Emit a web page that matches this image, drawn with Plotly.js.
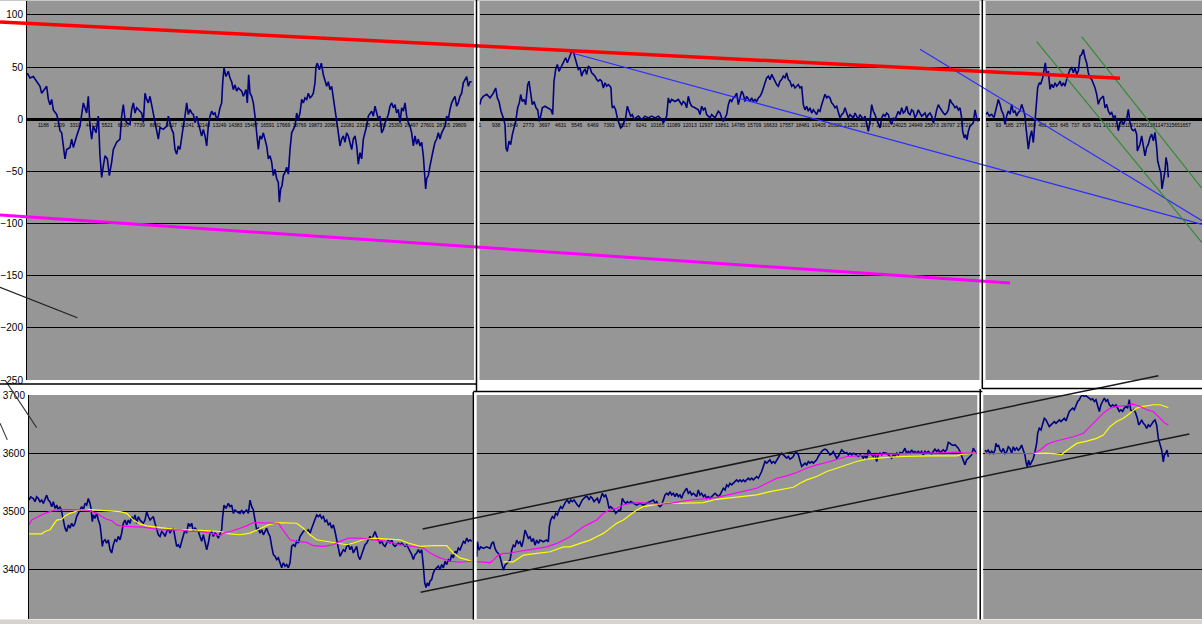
<!DOCTYPE html>
<html><head><meta charset="utf-8">
<script src="https://cdn.plot.ly/plotly-3.0.1.min.js"></script>
<style>html,body{margin:0;padding:0;background:#fff}#chart{width:1202px;height:624px}</style>
</head><body><div id="chart"></div>
<script>
// ---------- DATA (bar index, value) ----------
// Top oscillator, three sub-panels
const osc1 = [[22,44.3],[30,39.5],[40,41],[50,36],[60,31.6],[65,25],[70,27],[80,31.6],[85,19],[90,14],[95,19],[100,9],[110,4.6],[115,-1.7],[120,-11],[125,-13],[130,-25.6],[135,-38],[140,-29],[150,-27],[155,-19],[160,-27],[170,-16],[180,-6.5],[190,15.7],[200,6],[205,22],[210,-6.5],[215,-19],[220,-6.5],[228,-13],[235,3],[240,-35],[245,-55.7],[250,-44.6],[255,-35],[262,-38],[268,-54],[275,-41],[280,-29],[290,-22],[300,-19],[305,3],[310,14],[315,0],[320,-3.3],[330,-5],[335,9.4],[340,15.7],[345,6],[350,11],[360,7.8],[365,6],[370,-3],[375,25],[380,19],[385,15.7],[390,22],[395,14],[400,7.8],[405,-3.3],[410,-9.7],[415,-19],[420,-8],[430,-9.7],[440,-6.5],[445,3],[450,-3.3],[455,-9.7],[460,-13],[465,-29],[470,-33.5],[475,-25.6],[480,-29],[485,-16],[490,-6.5],[495,3],[500,15.7],[505,4.6],[510,9.4],[515,6],[520,4.6],[525,-3.3],[530,3],[540,-9.7],[545,-16],[550,-9.7],[555,-16],[560,-25.6],[565,-6.5],[570,3],[575,7.8],[580,4.6],[585,6],[590,0],[595,3],[600,11],[605,15.7],[608,35],[612,49],[618,41],[625,46],[630,39.5],[635,36],[640,28.4],[645,33],[650,27],[655,30],[665,27],[670,22],[678,28.4],[682,15.7],[686,42.7],[690,25],[695,22],[700,15.7],[705,3],[710,-13],[715,-29],[720,-16],[725,-19],[730,-13],[735,-19],[740,-25.6],[745,-38],[750,-35],[755,-41],[760,-54],[765,-48],[770,-57],[775,-60.5],[778,-79.5],[782,-66.8],[786,-63.7],[790,-54],[795,-51],[800,-46],[805,-52.6],[810,-29],[815,-13],[820,-9.7],[825,-6.5],[830,6],[835,0],[840,6],[845,19],[850,15.7],[855,20.5],[860,19],[865,25],[870,20.5],[875,22],[880,25],[885,35],[888,50.6],[892,53.8],[898,47.5],[904,53.8],[910,42.7],[915,38],[920,31.6],[925,36],[930,28.4],[935,31.6],[940,19],[945,6],[950,-1.7],[955,-13],[960,-25.6],[965,-19],[970,-16],[975,-22],[980,-13],[985,-16],[990,-22],[995,-29],[1000,-19],[1005,-16],[1010,-25.6],[1015,-43],[1020,-32],[1025,-38],[1030,-19],[1035,-13],[1040,-6.5],[1045,3],[1050,6],[1055,7.8],[1060,3],[1065,12.5],[1070,6],[1075,0],[1080,3],[1085,-13],[1090,-9.7],[1095,-3.3],[1100,0],[1105,4.6],[1110,12.5],[1115,15.7],[1120,11],[1125,14],[1130,6],[1135,9.4],[1140,-3.3],[1145,11],[1150,7.8],[1155,15.7],[1160,3],[1165,-3.3],[1170,-6.5],[1175,-13],[1180,-25.6],[1185,-16],[1190,-24],[1195,-19],[1200,-25.6],[1205,-22],[1210,-35],[1213,-51],[1217,-66.8],[1220,-57],[1225,-54],[1230,-44.6],[1235,-35],[1240,-29],[1245,-22],[1250,-19],[1255,-13],[1260,-19],[1265,-13],[1270,-9.7],[1275,-6.5],[1280,3],[1285,0],[1290,9.4],[1295,15.7],[1300,19],[1305,22],[1310,12.5],[1315,15.7],[1320,22],[1325,25],[1330,35],[1335,38],[1340,41],[1345,31.6],[1350,36],[1355,36]];
const osc2 = [[15,14],[18,19],[25,22],[35,24],[45,20.5],[55,25],[62,30],[67,20.5],[72,17],[78,7.7],[85,1.3],[90,-5],[93,-27.6],[97,-30.8],[102,-21],[107,-24.4],[112,-14.7],[117,-8.3],[122,-2],[128,11],[133,15.7],[137,23.7],[142,17],[147,19],[152,14],[158,33],[162,36.5],[167,25],[172,14],[177,17],[183,11],[188,9],[193,-2],[197,3],[202,11],[210,12.5],[220,11],[228,9],[233,4.5],[237,36.5],[242,47.8],[247,52.6],[252,46],[257,49.4],[262,52.6],[267,55.8],[272,59],[277,54.2],[282,59],[287,62],[291,66],[296,63.8],[300,59],[305,51],[310,47.8],[315,49.4],[320,41.3],[325,46],[330,47.8],[335,43],[340,51],[345,49.4],[350,44.5],[355,43],[360,41.3],[365,38],[370,36.5],[375,38],[380,36.5],[385,30],[390,35],[395,31.7],[400,33.3],[405,31.7],[408,30],[410,17],[412,11],[417,12.5],[422,9],[428,-0.3],[432,-5],[437,-8.3],[442,-6.7],[447,-2],[452,1.3],[457,12.5],[462,7.7],[467,3],[472,4.5],[477,-0.3],[482,1.3],[490,3],[500,-0.3],[510,3],[520,1.3],[530,3],[540,1.3],[550,3],[560,-0.3],[565,-3.4],[570,-0.3],[575,3],[580,20.5],[585,15.7],[590,19],[600,17],[610,19],[620,14],[625,17],[630,15.7],[635,11],[640,22],[645,15.7],[650,12.5],[660,11],[670,9],[675,4.5],[680,12.5],[685,9],[690,11],[695,4.5],[700,3],[705,1.3],[710,4.5],[720,1.3],[730,7.7],[735,6],[740,1.3],[745,-2],[750,1.3],[755,4.5],[760,14],[765,19],[770,17],[775,20.5],[780,22],[785,25],[790,14],[795,20.5],[800,27],[805,24],[810,17],[815,22],[820,19],[825,17],[830,20.5],[835,17],[840,19],[845,17],[850,20.5],[855,22],[860,25],[865,30],[870,33.3],[875,39.7],[880,41.3],[885,38],[890,43],[895,39.7],[900,36.5],[905,33.3],[910,31.7],[915,36.5],[920,38],[925,41.3],[930,39.7],[935,44.5],[940,38],[945,36.5],[950,31.7],[955,33.3],[960,30],[965,31.7],[970,33.3],[975,30],[980,31.7],[985,14],[990,9],[995,12.5],[1000,7.7],[1005,11],[1010,6],[1015,9],[1020,6],[1025,4.5],[1030,9],[1035,7.7],[1040,14],[1045,19],[1050,24],[1055,20.5],[1060,22],[1065,20.5],[1070,15.7],[1075,14],[1080,11],[1085,12.5],[1090,7.7],[1095,1.3],[1100,4.5],[1105,6],[1110,11],[1115,6],[1120,1.3],[1125,4.5],[1130,3],[1135,1.3],[1140,6],[1145,3],[1150,-0.3],[1155,4.5],[1160,1.3],[1165,-0.3],[1170,3],[1175,-5],[1180,-11.5],[1185,-2],[1190,14],[1195,7.7],[1200,4.5],[1205,-0.3],[1210,-5],[1215,-8.3],[1220,1.3],[1225,4.5],[1230,3],[1235,6],[1240,4.5],[1245,-2],[1250,-5],[1255,1.3],[1260,-0.3],[1265,3],[1270,7.7],[1275,4.5],[1280,11],[1285,6],[1290,7.7],[1295,12.5],[1300,6],[1305,4.5],[1310,9],[1315,7.7],[1320,1.3],[1325,4.5],[1330,9],[1335,6],[1340,3],[1345,4.5],[1350,6],[1355,1.3],[1360,4.5],[1365,6],[1370,3],[1375,-3.4],[1380,1.3],[1385,9],[1390,14],[1395,11],[1400,7.7],[1405,6],[1410,4.5],[1415,6],[1420,9],[1425,19],[1430,15.7],[1435,14],[1440,11],[1445,12.5],[1450,9],[1455,11],[1460,1.3],[1463,-11.5],[1468,-18],[1472,-14.7],[1476,-19.6],[1480,-11.5],[1485,-6.7],[1490,-5],[1495,-3.4],[1500,9],[1505,1.3],[1510,-2]];
const osc3 = [[258,4.8],[262,6.4],[268,3.2],[275,4.8],[282,1.6],[290,11],[295,19],[300,14.3],[305,8],[310,4.8],[315,-4.8],[320,3.2],[325,8],[330,4.8],[335,14.3],[340,6.4],[345,8],[350,3.2],[355,6.4],[360,8],[365,14.3],[370,9.5],[375,3.2],[378,-8],[382,-23.9],[385,-28.7],[390,-17.5],[395,-11],[400,-22.3],[405,-4.8],[410,14.3],[413,30.3],[418,35],[422,33.5],[428,39.8],[432,47.8],[436,54],[440,41.4],[445,46.2],[450,28.7],[455,33.5],[460,30.3],[465,35],[470,31.8],[475,33.5],[480,36.6],[485,31.8],[490,35],[495,31.8],[500,38.2],[505,43],[510,47.8],[515,49.4],[520,44.6],[525,49.4],[530,43],[535,46.2],[540,60.5],[545,62],[550,67],[555,59],[560,54],[565,44.6],[570,39.8],[575,38.2],[580,35],[585,30.3],[590,24],[595,14.3],[600,19],[605,20.6],[610,22.3],[615,11],[620,14.3],[625,8],[630,4.8],[635,6.4],[640,1.6],[645,3.2],[650,-1.6],[655,-11],[660,-3.2],[665,-1.6],[670,-4.8],[675,-1.6],[680,0],[685,9.5],[690,-3.2],[695,-9.5],[700,-11],[705,-9.5],[710,-14.3],[712,-30.3],[716,-27],[720,-23.9],[725,-15.9],[730,-27],[735,-35],[740,-27],[745,-23.9],[750,-17.5],[755,-14.3],[760,-20.7],[765,-12.7],[770,-27],[773,-39.8],[778,-46.2],[783,-52.6],[786,-66.8],[790,-57.3],[795,-49.4],[798,-36.6],[802,-43],[805,-55.7]];

// Bottom price (navy) with two moving averages (magenta, yellow), three sub-panels
const price1 = [[27,3519.3],[32,3525],[40,3522],[45,3516.5],[50,3525],[55,3522],[60,3516.5],[65,3519.3],[70,3513.6],[75,3522],[80,3527.8],[85,3519.3],[90,3516.5],[95,3508],[100,3516.5],[105,3505],[110,3510.8],[115,3502.3],[120,3508],[125,3499.4],[130,3485],[135,3471],[140,3465.3],[145,3476.7],[150,3471],[155,3479.5],[160,3474],[165,3479.5],[170,3491],[175,3496.6],[180,3502.3],[185,3508],[190,3502.3],[195,3513.6],[200,3510.8],[205,3522],[210,3513.6],[213,3505],[217,3482.4],[220,3493.8],[225,3488],[230,3496.6],[235,3485],[240,3476.7],[243,3462.5],[247,3439.8],[250,3448.4],[255,3451.1],[260,3445.5],[265,3451.1],[270,3434],[275,3428.4],[280,3442.6],[285,3451.1],[290,3448.4],[295,3456.8],[300,3451.1],[305,3462.5],[310,3479.5],[315,3485],[320,3476.7],[325,3485],[330,3479.5],[335,3491],[340,3485],[345,3493.8],[350,3479.5],[355,3491],[360,3485],[365,3482.4],[370,3479.5],[375,3485],[380,3499.4],[385,3491],[390,3485],[395,3488],[400,3491],[405,3479.5],[410,3471],[415,3459.7],[420,3456.8],[425,3465.3],[430,3462.5],[435,3456.8],[440,3465.3],[445,3471],[450,3462.5],[455,3468.2],[460,3471],[465,3456.8],[470,3439.8],[475,3442.6],[480,3437],[485,3448.4],[490,3456.8],[495,3468.2],[500,3462.5],[505,3479.5],[510,3474],[515,3479.5],[520,3465.3],[525,3471],[530,3468.2],[535,3465.3],[540,3456.8],[545,3448.4],[550,3459.7],[555,3448.4],[560,3434],[565,3445.5],[570,3462.5],[575,3465.3],[580,3456.8],[585,3462.5],[590,3459.7],[595,3454],[600,3459.7],[605,3468.2],[608,3491],[612,3510.8],[618,3505],[625,3513.6],[630,3508],[635,3510.8],[640,3496.6],[645,3502.3],[650,3499.4],[660,3496.6],[665,3502.3],[670,3496.6],[675,3499.4],[680,3502.3],[685,3496.6],[690,3519.3],[695,3508],[700,3502.3],[705,3485],[710,3468.2],[715,3471],[720,3462.5],[725,3468.2],[730,3459.7],[735,3465.3],[740,3471],[745,3462.5],[750,3456.8],[755,3439.8],[760,3425.6],[765,3422.7],[770,3417],[775,3420],[780,3411.4],[785,3402.8],[790,3411.4],[795,3405.7],[800,3408.5],[805,3402.8],[810,3411.4],[815,3439.8],[820,3442.6],[825,3439.8],[830,3448.4],[835,3445.5],[840,3456.8],[845,3462.5],[850,3465.3],[855,3468.2],[860,3465.3],[865,3468.2],[870,3462.5],[875,3471],[880,3479.5],[885,3485],[890,3493.8],[895,3491],[900,3493.8],[905,3488],[910,3491],[915,3482.4],[920,3485],[925,3476.7],[930,3479.5],[935,3471],[940,3476.7],[945,3465.3],[950,3451.1],[955,3434],[960,3422.7],[965,3428.4],[970,3434],[975,3431.2],[980,3439.8],[985,3442.6],[990,3434],[995,3439.8],[1000,3428.4],[1005,3434],[1010,3439.8],[1015,3422.7],[1020,3417],[1025,3425.6],[1030,3434],[1035,3442.6],[1040,3445.5],[1045,3451.1],[1050,3456.8],[1055,3451.1],[1060,3459.7],[1065,3465.3],[1070,3456.8],[1075,3451.1],[1080,3445.5],[1085,3448.4],[1090,3442.6],[1095,3439.8],[1100,3445.5],[1105,3451.1],[1110,3445.5],[1115,3451.1],[1120,3442.6],[1125,3439.8],[1130,3442.6],[1135,3445.5],[1140,3442.6],[1145,3445.5],[1150,3442.6],[1155,3439.8],[1160,3442.6],[1165,3437],[1170,3431.2],[1175,3425.6],[1180,3417],[1185,3425.6],[1190,3428.4],[1195,3434],[1200,3428.4],[1205,3434],[1210,3405.7],[1214,3377.3],[1218,3368.8],[1222,3377.3],[1226,3371.6],[1230,3380.1],[1235,3383],[1240,3394.3],[1245,3400],[1250,3402.8],[1255,3405.7],[1260,3400],[1265,3408.5],[1270,3402.8],[1275,3414.2],[1280,3408.5],[1285,3417],[1290,3414.2],[1295,3425.6],[1300,3420],[1305,3431.2],[1310,3428.4],[1315,3437],[1320,3434],[1325,3442.6],[1330,3448.4],[1335,3445.5],[1340,3454],[1345,3448.4],[1350,3451.1],[1355,3448.4]];
const maFast1 = [[27,3476.7],[35,3485],[45,3488],[55,3491],[65,3493.8],[75,3496.6],[90,3499.4],[105,3502.3],[120,3503.4],[140,3503.4],[160,3502.3],[180,3503.4],[200,3502.3],[215,3499.4],[230,3496.6],[245,3491],[260,3486.4],[275,3484.1],[290,3476.7],[310,3474],[340,3474],[370,3472.7],[390,3471],[420,3468.2],[450,3468.2],[480,3468.2],[510,3465.3],[540,3465.3],[570,3462.5],[590,3459.7],[600,3458],[610,3462.5],[630,3465.3],[660,3471],[680,3475],[700,3480.7],[720,3480.7],[740,3479.5],[760,3480.7],[775,3479.5],[785,3471],[800,3459.7],[810,3451.1],[830,3448.4],[860,3446.6],[880,3440.9],[910,3439.8],[940,3442.6],[960,3448.4],[985,3454],[1020,3454],[1060,3451.1],[1100,3448.4],[1140,3442.6],[1180,3439.8],[1210,3437],[1230,3428.4],[1260,3420],[1290,3414.2],[1320,3412.5],[1355,3414.2]];
const maSlow1 = [[27,3461.4],[65,3461.4],[75,3465.3],[90,3468.2],[100,3476.7],[110,3485],[125,3486.4],[135,3492],[150,3496.6],[165,3499.4],[180,3502.3],[200,3503.4],[240,3502.3],[270,3500.6],[300,3499.4],[320,3496.6],[340,3485],[360,3478.4],[380,3475],[410,3472.7],[440,3471],[480,3468.2],[520,3468.2],[560,3467],[600,3465.3],[630,3461.4],[660,3459.7],[690,3462.5],[720,3471],[745,3476.7],[770,3480.7],[800,3480.7],[830,3479.5],[850,3471],[870,3459.7],[890,3451.1],[920,3448.4],[950,3445.5],[980,3442.6],[1000,3445.5],[1030,3451.1],[1060,3454],[1100,3452.3],[1140,3451.1],[1165,3445.5],[1200,3439.8],[1240,3440.9],[1280,3440.9],[1300,3428.4],[1320,3420],[1340,3417],[1355,3414.2]];
const price2 = [[20,3421.8],[22,3447.7],[27,3433.3],[32,3439],[40,3436.2],[50,3439],[60,3436.2],[65,3444.8],[70,3447.7],[75,3436.2],[80,3430.5],[85,3427.6],[90,3421.8],[95,3410.3],[100,3398.9],[105,3407.5],[110,3410.3],[115,3413.2],[120,3416.1],[125,3433.3],[130,3441.9],[135,3439],[140,3450.6],[145,3444.8],[150,3447.7],[155,3439],[160,3450.6],[165,3467.8],[170,3462.1],[175,3453.5],[180,3456.3],[185,3447.7],[190,3453.5],[195,3441.9],[200,3450.6],[205,3444.8],[210,3450.6],[220,3447.7],[230,3450.6],[235,3447.7],[238,3473.6],[242,3485.1],[247,3490.8],[252,3487.9],[257,3496.6],[262,3493.7],[267,3502.3],[272,3508],[277,3505.2],[282,3510.9],[287,3516.7],[292,3519.5],[297,3513.8],[302,3519.5],[307,3516.7],[312,3519.5],[317,3513.8],[322,3510.9],[327,3508],[332,3513.8],[337,3519.5],[342,3522.4],[347,3525.3],[352,3525.3],[357,3519.5],[362,3525.3],[367,3522.4],[372,3516.7],[377,3519.5],[382,3522.4],[387,3513.8],[392,3522.4],[397,3531],[402,3525.3],[407,3528.2],[412,3519.5],[417,3505.2],[422,3508],[427,3505.2],[432,3502.3],[437,3496.6],[442,3499.4],[447,3502.3],[452,3502.3],[457,3522.4],[462,3516.7],[467,3513.8],[472,3516.7],[477,3513.8],[482,3516.7],[490,3513.8],[500,3510.9],[510,3513.8],[520,3510.9],[530,3513.8],[540,3516.7],[550,3519.5],[555,3513.8],[560,3516.7],[565,3510.9],[570,3508],[575,3510.9],[580,3519.5],[585,3528.2],[590,3531],[595,3528.2],[600,3533.9],[605,3528.2],[610,3531],[615,3525.3],[620,3531],[625,3525.3],[630,3528.2],[635,3522.4],[640,3531],[645,3536.8],[650,3539.7],[655,3531],[660,3533.9],[665,3528.2],[670,3531],[675,3528.2],[680,3525.3],[685,3536.8],[690,3528.2],[695,3531],[700,3525.3],[705,3528.2],[710,3522.4],[715,3525.3],[720,3522.4],[725,3525.3],[730,3528.2],[735,3531],[740,3528.2],[745,3525.3],[750,3528.2],[755,3533.9],[760,3539.7],[765,3536.8],[770,3545.4],[775,3542.5],[780,3548.3],[785,3545.4],[790,3548.3],[795,3551.2],[800,3554],[805,3551.2],[810,3554],[815,3551.2],[820,3554],[825,3551.2],[830,3554],[835,3556.9],[840,3554],[845,3556.9],[850,3554],[855,3556.9],[860,3559.8],[865,3556.9],[870,3562.6],[875,3568.4],[880,3577],[885,3585.6],[890,3582.8],[895,3585.6],[900,3588.5],[905,3582.8],[910,3585.6],[915,3582.8],[920,3588.5],[925,3591.4],[930,3597.1],[935,3600],[940,3597.1],[945,3594.3],[950,3591.4],[955,3594.3],[960,3589.7],[965,3591.4],[970,3594.3],[975,3600],[980,3601.1],[985,3597.1],[990,3585.6],[995,3577],[1000,3579.9],[1005,3582.8],[1010,3579.9],[1015,3585.6],[1020,3582.8],[1025,3585.6],[1030,3582.8],[1035,3585.6],[1040,3588.5],[1045,3594.3],[1050,3600],[1055,3602.9],[1060,3605.7],[1065,3606.9],[1070,3605.7],[1075,3601.1],[1080,3597.1],[1085,3598.9],[1090,3602.9],[1095,3597.1],[1100,3591.4],[1105,3594.3],[1110,3600],[1115,3605.7],[1120,3602.9],[1125,3600],[1130,3601.1],[1135,3597.1],[1140,3600],[1145,3597.1],[1150,3600],[1155,3598.9],[1160,3597.1],[1165,3594.3],[1170,3597.1],[1175,3595.4],[1180,3591.4],[1185,3597.1],[1190,3588.5],[1195,3605.7],[1200,3600],[1205,3597.1],[1210,3594.3],[1215,3600],[1220,3585.6],[1225,3597.1],[1230,3600],[1235,3597.1],[1240,3601.1],[1245,3600],[1250,3600],[1255,3597.1],[1260,3594.3],[1265,3591.4],[1270,3597.1],[1275,3594.3],[1280,3600],[1285,3597.1],[1290,3601.1],[1295,3600],[1300,3602.9],[1305,3608.6],[1310,3600],[1315,3602.9],[1320,3600],[1325,3605.7],[1330,3601.1],[1335,3602.9],[1340,3600],[1345,3602.9],[1350,3600],[1355,3602.9],[1360,3597.1],[1365,3602.9],[1370,3600],[1375,3602.9],[1380,3600],[1385,3598.9],[1390,3602.9],[1395,3606.9],[1400,3602.9],[1405,3605.7],[1410,3601.1],[1415,3602.9],[1420,3605.7],[1425,3602.9],[1430,3605.7],[1435,3618.4],[1440,3617.2],[1445,3614.4],[1450,3613.2],[1455,3614.4],[1460,3611.5],[1465,3608.6],[1470,3602.9],[1475,3594.3],[1480,3585.6],[1485,3579.9],[1490,3588.5],[1495,3591.4],[1500,3594.3],[1505,3597.1],[1510,3608.6],[1515,3602.9],[1520,3598.9]];
const maFast2 = [[20,3413.2],[35,3413.2],[60,3411.5],[70,3416.1],[85,3424.7],[100,3427.6],[120,3427.6],[140,3430.5],[170,3433.3],[200,3436.2],[230,3439],[260,3444.8],[280,3450.6],[300,3456.3],[320,3465],[340,3473.6],[360,3479.3],[380,3485.1],[400,3496.6],[420,3502.3],[440,3505.2],[460,3510.9],[480,3513.8],[510,3515],[540,3513.8],[570,3512.6],[600,3513.8],[630,3516.7],[660,3519.5],[700,3521.3],[740,3524.1],[780,3529.3],[820,3535.1],[860,3539.7],[890,3548.3],[920,3556.9],[950,3560.9],[980,3566.7],[1010,3574.1],[1040,3579.9],[1070,3583.9],[1100,3589.7],[1130,3594.3],[1160,3595.4],[1200,3597.1],[1240,3598.3],[1280,3598.9],[1320,3600],[1360,3600],[1400,3600],[1440,3601.1],[1465,3601.7],[1480,3600],[1520,3600]];
const maSlow2 = [[100,3413.2],[130,3413.2],[145,3419],[160,3424.7],[200,3427.6],[240,3430.5],[280,3439],[300,3439],[330,3444.8],[360,3450.6],[380,3456.3],[400,3462.1],[420,3470.7],[440,3479.3],[460,3485.1],[480,3493.7],[500,3502.3],[520,3508],[550,3510.9],[580,3513.8],[620,3513.8],[660,3513.8],[700,3515],[740,3520.7],[780,3523.6],[820,3525.3],[860,3528.2],[900,3533.9],[940,3537.9],[970,3541.4],[990,3548.3],[1010,3554],[1040,3559.8],[1070,3568.4],[1100,3574.1],[1130,3579.9],[1160,3585.6],[1190,3589.7],[1220,3591.4],[1260,3593.1],[1300,3594.3],[1340,3595.4],[1380,3595.4],[1420,3595.4],[1460,3595.4],[1480,3598.9],[1520,3600]];
const price3 = [[255,3605.2],[260,3602.3],[265,3605.2],[270,3599.4],[275,3603.5],[280,3599.4],[285,3605.2],[288,3616.8],[292,3611],[296,3613.9],[300,3605.2],[305,3602.3],[310,3608.1],[315,3599.4],[320,3602.3],[325,3611],[330,3608.1],[335,3599.4],[340,3611],[345,3605.2],[350,3609.2],[355,3605.2],[360,3608.1],[365,3613.9],[370,3605.2],[375,3596.5],[378,3585],[382,3576.3],[386,3587.9],[390,3579.2],[395,3585],[400,3590.8],[405,3602.3],[410,3616.8],[413,3634.1],[418,3642.8],[423,3640],[428,3651.4],[433,3660.1],[438,3657.2],[443,3651.4],[448,3645.7],[453,3648.6],[458,3651.4],[463,3654.3],[468,3651.4],[473,3654.3],[478,3657.2],[483,3654.3],[488,3657.2],[493,3660.1],[498,3655.5],[503,3663],[508,3671.7],[513,3674.6],[518,3677.5],[523,3674.6],[528,3683.2],[533,3689],[538,3691.9],[543,3697.7],[548,3699.4],[553,3697.7],[558,3698.8],[563,3696],[568,3694.8],[573,3691.9],[578,3693.6],[583,3689],[588,3691.9],[593,3683.2],[598,3671.7],[603,3683.2],[608,3689],[613,3694.8],[618,3689],[623,3691.9],[628,3683.2],[633,3680.3],[638,3683.2],[643,3680.3],[648,3683.2],[653,3677.5],[658,3671.7],[663,3674.6],[668,3671.7],[673,3677.5],[678,3680.3],[683,3677.5],[688,3691.9],[692,3674.6],[697,3671.7],[702,3674.6],[707,3668.8],[712,3660.1],[716,3648.6],[720,3651.4],[725,3657.2],[730,3651.4],[735,3648.6],[740,3642.8],[745,3648.6],[750,3645.7],[755,3651.4],[760,3654.3],[765,3657.2],[770,3648.6],[775,3625.4],[780,3613.9],[785,3605.2],[790,3585],[793,3596.5],[797,3599.4],[801,3605.2],[805,3593.6]];
const maFast3 = [[255,3599.4],[300,3599.4],[340,3599.4],[380,3598.3],[400,3599.4],[420,3605.2],[440,3615],[460,3619.7],[490,3623.7],[520,3628.3],[550,3634.1],[570,3645.7],[590,3657.2],[610,3668.8],[630,3677.5],[650,3680.3],[680,3682.1],[700,3684.4],[720,3680.3],[740,3674.6],[760,3671.7],[780,3660.1],[795,3651.4],[805,3648.6]];
const maSlow3 = [[255,3599.4],[300,3598.8],[350,3599.4],[400,3599.4],[440,3600],[470,3598.8],[485,3597.7],[495,3602.3],[510,3608.1],[530,3616.8],[560,3620.8],[590,3625.4],[610,3631.2],[630,3645.7],[650,3654.3],[670,3660.1],[690,3668.8],[710,3677.5],[730,3680.3],[760,3683.2],[780,3683.2],[795,3680.3],[805,3678.6]];

// Hand-drawn trend lines, on a continuous chart-time scale across the whole window
const trendRed     = [[0,93.3],[3360,39.3]];
const trendMagenta = [[0,-91.8],[3030,-157.0]];
const trendBlue1   = [[1719,63.3],[3606,-100.8]];
const trendBlue2   = [[2760,67.1],[3606,-97.3]];
const trendGreen1  = [[3110,74.4],[3606,-118.2]];
const trendGreen2  = [[3245,79.2],[3606,-66.3]];
const trendBlackT  = [[0,-161.1],[232,-190.3]];
const channelUp    = [[1268,3469.6],[3475,3733.2]];
const channelLow   = [[1262,3360.8],[3568,3633.0]];
const stubA        = [[15,3725.7],[110,3644.0]];
const stubB        = [[0,3651.5],[22,3622.9]];

// Tick labels printed along the zero line of the upper window
const ticks1 = ["1188","2209","3310","4412","5521","6636","7739","8832","9927","11041","12145","13249","14383","15487","16591","17669","18769","19873","20981","22081","23185","24289","25393","26497","27601","28705","29809"];
const ticks2 = ["1","938","1849","2773","3697","4631","5545","6469","7393","8317","9241","10165","11089","12013","12937","13861","14785","15709","16633","17557","18481","19405","20329","21253","22177","23101","24025","24949","25873","26797","27721","28645"];
const ticks3 = ["1","93","185","277","369","461","553","645","737","829","921","1013","1105","1197","1289","1381","1473","1565","1657"];

// ---------- LAYOUT ----------
const W = 1202, H = 624;
const fx = p => p / W;
const fy = p => 1 - p / H;
const FONT = 'Liberation Sans, Arial, sans-serif';
const GRAY = '#969696';
const NAVY = '#000080';

const topDom = [fy(380), fy(1)], topRange = [-250, 113.4];
const botDom = [fy(619), fy(395)], botRange = [3314.9, 3700];
const botOverDom = [fy(619), fy(370)];
const botOverRange = [3314.9, 3700 + (395 - 370) * (3700 - 3314.9) / (619 - 395)];
const timeRange = [0, 3606];

const topPanels = [
  {id: 'x',  l: 27,    r: 474,   range: [21, 1362],    tick0: 70,  dt: 48,   labels: ticks1},
  {id: 'x2', l: 479.5, r: 979.5, range: [13.5, 1513.5], tick0: 15,  dt: 48.4, labels: ticks2},
  {id: 'x3', l: 985.5, r: 1202,  range: [256.5, 906],  tick0: 262, dt: 33,   labels: ticks3}
];
const botPanels = [
  {id: 'x4', l: 29,    r: 472.7, range: [27, 1358]},
  {id: 'x5', l: 476.7, r: 977.3, range: [20, 1522]},
  {id: 'x6', l: 983.3, r: 1202,  range: [250, 906]}
];

const layout = {
  width: W, height: H,
  margin: {l: 0, r: 0, t: 0, b: 0, pad: 0},
  paper_bgcolor: '#ffffff', plot_bgcolor: 'rgba(0,0,0,0)',
  showlegend: false, hovermode: false,
  font: {family: FONT, size: 10, color: '#000'},
  shapes: []
};

const yCommon = {
  showgrid: true, gridcolor: '#000', gridwidth: 1,
  showline: true, linecolor: '#000', linewidth: 1,
  ticks: 'outside', ticklen: 1, tickcolor: 'rgba(0,0,0,0)',
  tickfont: {family: FONT, size: 10, color: '#000'},
  autorange: false, fixedrange: true
};
layout.yaxis = Object.assign({}, yCommon, {domain: topDom, range: topRange, tick0: 0, dtick: 50,
  zeroline: true, zerolinecolor: '#000', zerolinewidth: 2.5, anchor: 'x'});
layout.yaxis2 = Object.assign({}, yCommon, {domain: botDom, range: botRange, tick0: 0, dtick: 100,
  zeroline: false, anchor: 'x4'});

topPanels.forEach(p => {
  const key = 'xaxis' + p.id.slice(1);
  layout[key] = {
    domain: [fx(p.l), fx(p.r)], range: p.range, autorange: false, fixedrange: true,
    anchor: 'free', position: fy(121),
    showgrid: false, zeroline: false, showline: false,
    tickmode: 'array',
    tickvals: p.labels.map((_, i) => p.tick0 + i * p.dt),
    ticktext: p.labels, ticks: '', tickangle: 0,
    tickfont: {family: FONT, size: 5, color: '#000'}
  };
  layout.shapes.push({type: 'rect', xref: p.id + ' domain', yref: 'y domain', x0: 0, x1: 1, y0: 0, y1: 1,
    fillcolor: GRAY, line: {width: 0}, layer: 'below'});
});
botPanels.forEach(p => {
  const key = 'xaxis' + p.id.slice(1);
  layout[key] = {
    domain: [fx(p.l), fx(p.r)], range: p.range, autorange: false, fixedrange: true,
    anchor: 'y2', visible: false, showgrid: false, zeroline: false
  };
  layout.shapes.push({type: 'rect', xref: p.id + ' domain', yref: 'y2 domain', x0: 0, x1: 1, y0: 0, y1: 1,
    fillcolor: GRAY, line: {width: 0}, layer: 'below'});
});
// overlay axes for the hand-drawn trend lines (span the whole window width)
layout.xaxis7 = {domain: [0, 1], range: timeRange, autorange: false, visible: false, anchor: 'y3', fixedrange: true};
layout.yaxis3 = {domain: topDom, range: topRange, autorange: false, visible: false, anchor: 'x7', fixedrange: true};
layout.xaxis8 = {domain: [0, 1], range: timeRange, autorange: false, visible: false, anchor: 'y4', fixedrange: true};
layout.yaxis4 = {domain: botOverDom, range: botOverRange, autorange: false, visible: false, anchor: 'x8', fixedrange: true};

// window frame lines (paper pixels)
function seg(x0, y0, x1, y1, color, w) {
  layout.shapes.push({type: 'line', xref: 'paper', yref: 'paper', x0: fx(x0), x1: fx(x1), y0: fy(y0), y1: fy(y1),
    line: {color: color, width: w}, layer: 'above'});
}
seg(0, 0.5, 1202, 0.5, '#c8c8c8', 1);
seg(476.5, 0, 476.5, 392, '#000', 1.5);
seg(982.3, 0, 982.3, 389, '#000', 1.5);
seg(473.3, 392, 473.3, 620, '#000', 1.5);
seg(980.2, 389, 980.2, 620, '#000', 1.5);
seg(0, 384, 476.5, 384, '#000', 1.5);
seg(473.3, 391.5, 982.3, 391.5, '#000', 1.5);
seg(982.3, 388.5, 1202, 388.5, '#000', 1.5);
layout.shapes.push({type: 'rect', xref: 'paper', yref: 'paper', x0: 0, x1: 1, y0: 0, y1: fy(619.5),
  fillcolor: '#d6d3ce', line: {width: 0}, layer: 'above'});

// ---------- TRACES ----------
const traces = [];
function addSeries(pairs, xa, ya, color, width) {
  traces.push({type: 'scatter', mode: 'lines', x: pairs.map(p => p[0]), y: pairs.map(p => p[1]),
    xaxis: xa, yaxis: ya, line: {color: color, width: width}, hoverinfo: 'skip'});
}
addSeries(osc1, 'x', 'y', NAVY, 1.6);
addSeries(osc2, 'x2', 'y', NAVY, 1.6);
addSeries(osc3, 'x3', 'y', NAVY, 1.6);

addSeries(price1, 'x4', 'y2', NAVY, 1.6);
addSeries(price2, 'x5', 'y2', NAVY, 1.6);
addSeries(price3, 'x6', 'y2', NAVY, 1.6);
addSeries(maSlow1, 'x4', 'y2', '#ffff00', 1.2);
addSeries(maSlow2, 'x5', 'y2', '#ffff00', 1.2);
addSeries(maSlow3, 'x6', 'y2', '#ffff00', 1.2);
addSeries(maFast1, 'x4', 'y2', '#ff00ff', 1.2);
addSeries(maFast2, 'x5', 'y2', '#ff00ff', 1.2);
addSeries(maFast3, 'x6', 'y2', '#ff00ff', 1.2);

addSeries(trendBlue1, 'x7', 'y3', '#2b2bff', 1.2);
addSeries(trendBlue2, 'x7', 'y3', '#2b2bff', 1.2);
addSeries(trendGreen1, 'x7', 'y3', '#2f8a2f', 1.1);
addSeries(trendGreen2, 'x7', 'y3', '#2f8a2f', 1.1);
addSeries(trendBlackT, 'x7', 'y3', '#202020', 1.2);
addSeries(trendMagenta, 'x7', 'y3', '#ff00ff', 3);
addSeries(trendRed, 'x7', 'y3', '#ff0000', 3.5);

addSeries(channelUp, 'x8', 'y4', '#1a1a1a', 1.5);
addSeries(channelLow, 'x8', 'y4', '#1a1a1a', 1.5);
addSeries(stubA, 'x8', 'y4', '#333333', 1.1);
addSeries(stubB, 'x8', 'y4', '#333333', 1.1);

Plotly.newPlot('chart', traces, layout, {staticPlot: true, displayModeBar: false});
</script>
</body></html>
